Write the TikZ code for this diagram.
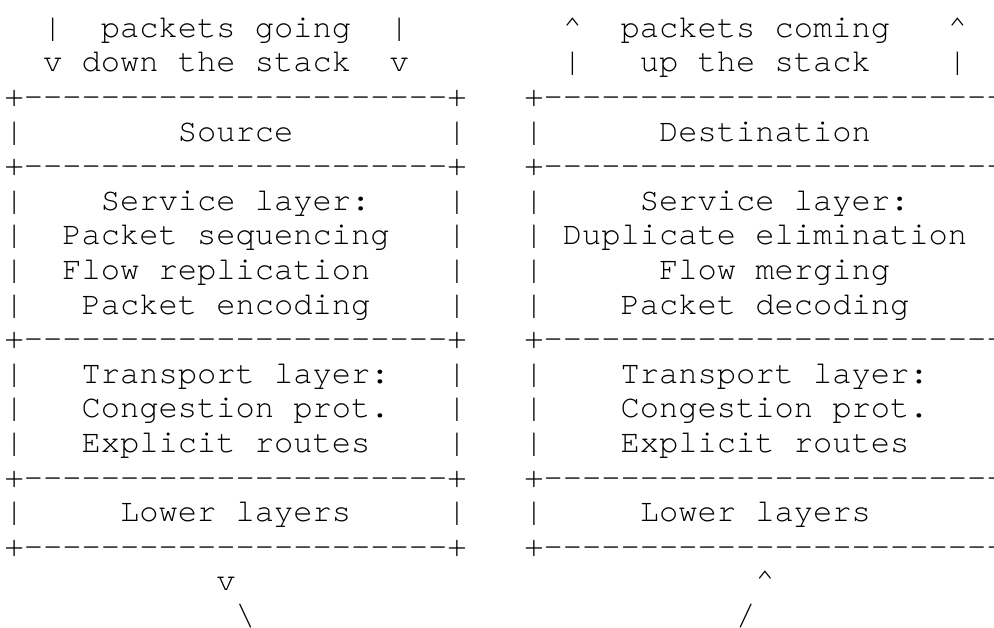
\documentclass[tikz,border=0pt]{standalone}
\usepackage{fontspec}
\setmonofont{TeX Gyre Cursor}
\begin{document}
\begin{tikzpicture}[x=1pt,y=1pt]
\def\cw{19.25}
\def\lh{34.6}
\tikzset{asc/.style={anchor=base west,inner sep=0pt,outer sep=0pt,
                     font=\ttfamily\fontsize{32.08}{34.6}\selectfont}}
\useasboundingbox (0,0) rectangle (994,-627);
\fill[white] (0,0) rectangle (994,-627);

% the +----+ rows of both stacks (the right one runs off the page)
\foreach \r in {3,5,10,14,16}
{
    \pgfmathsetmacro{\yb}{-37.3-(\r-1)*\lh}
    \node[asc] (edgeL\r) at (4.6,\yb) {+----------------------+};
    \node[asc] (edgeR\r) at ({4.6+27*\cw},\yb) {+-------------------------};
}
% the | sides of the boxes
\foreach \r in {4,6,7,8,9,11,12,13,15}
{
    \pgfmathsetmacro{\yb}{-37.3-(\r-1)*\lh}
    \node[asc] (sideA\r) at (4.6,\yb) {|};
    \node[asc] (sideB\r) at ({4.6+23*\cw},\yb) {|};
    \node[asc] (sideC\r) at ({4.6+27*\cw},\yb) {|};
}
% the texts: row/column/name/text
\foreach \r/\c/\nm/\txt in {
    1/2/downA/{|}, 1/5/going/{packets going}, 1/20/downB/{|},
    1/29/upA/{\textasciicircum}, 1/32/coming/{packets coming}, 1/49/upB/{\textasciicircum},
    2/2/downC/{v}, 2/4/downstack/{down the stack}, 2/20/downD/{v},
    2/29/upC/{|}, 2/33/upstack/{up the stack}, 2/49/upD/{|},
    4/9/source/{Source}, 4/34/dest/{Destination},
    6/5/servL/{Service layer:}, 6/33/servR/{Service layer:},
    7/3/seq/{Packet sequencing}, 7/29/dup/{Duplicate elimination},
    8/3/repl/{Flow replication}, 8/34/merge/{Flow merging},
    9/4/enc/{Packet encoding}, 9/32/dec/{Packet decoding},
    11/4/tranL/{Transport layer:}, 11/32/tranR/{Transport layer:},
    12/4/congL/{Congestion prot.}, 12/32/congR/{Congestion prot.},
    13/4/routL/{Explicit routes}, 13/32/routR/{Explicit routes},
    15/6/lowL/{Lower layers}, 15/33/lowR/{Lower layers},
    17/11/outA/{v}, 17/39/inA/{\textasciicircum},
    18/12/outB/{\textbackslash}, 18/38/inB/{/}}
{
    \pgfmathsetmacro{\yb}{-37.3-(\r-1)*\lh}
    \node[asc] (\nm) at ({4.6+\c*\cw},\yb) {\txt};
}
\end{tikzpicture}
\end{document}
